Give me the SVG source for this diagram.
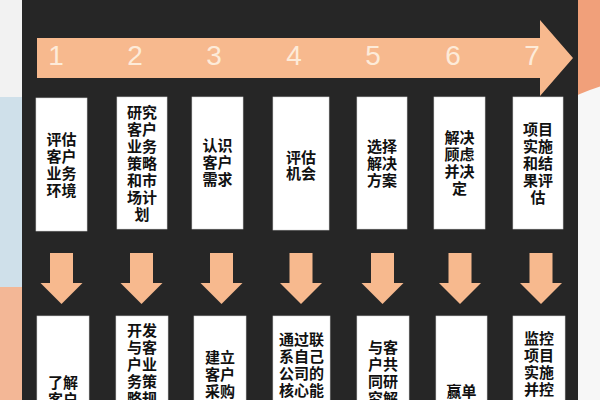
<svg xmlns="http://www.w3.org/2000/svg" width="600" height="400" viewBox="0 0 600 400">
  <defs>
    <style>
      .box { fill: #ffffff; stroke: #d8d8d8; stroke-width: 0.6; }
      .lbl { font-family: "Noto Sans CJK SC", "Noto Sans", sans-serif; font-size: 15px; font-weight: bold; fill: #111111; text-anchor: middle; }
      .num { font-family: "Liberation Sans", "DejaVu Sans", sans-serif; font-size: 28px; fill: #fdebd9; text-anchor: middle; }
      .arr { fill: #f7b98e; }
    </style>
    <polygon id="down" points="-11.5,253 11.5,253 11.5,283 21,283 0,304 -21,283 -11.5,283"/>
  </defs>

  <!-- background -->
  <rect x="0" y="0" width="600" height="400" fill="#f6f6f6"/>
  <rect x="0" y="0" width="24" height="97" fill="#f2f2f2"/>
  <rect x="0" y="97" width="24" height="190" fill="#cfe0ea"/>
  <rect x="0" y="287" width="24" height="113" fill="#f3b796"/>
  <rect x="576" y="0" width="24" height="120" fill="#f1a07a"/>
  <circle cx="680" cy="334" r="260" fill="#f7f7f7"/>
  <rect x="22" y="0" width="556" height="400" fill="#262626"/>

  <!-- timeline arrow -->
  <g id="timeline">
    <polygon class="arr" points="37,38 540,38 540,20 573,58 540,96 540,78 37,78"/>
    <text class="num" x="56" y="65">1</text>
    <text class="num" x="135" y="65">2</text>
    <text class="num" x="214" y="65">3</text>
    <text class="num" x="294" y="65">4</text>
    <text class="num" x="373" y="65">5</text>
    <text class="num" x="453" y="65">6</text>
    <text class="num" x="532" y="65">7</text>
  </g>

  <!-- top row -->
  <g id="step1">
    <rect class="box" x="36" y="98" width="51" height="133"/>
    <text class="lbl" x="61.5" y="145"><tspan x="61.5">评估</tspan><tspan x="61.5" dy="17">客户</tspan><tspan x="61.5" dy="17">业务</tspan><tspan x="61.5" dy="17">环境</tspan></text>
  </g>
  <g id="step2">
    <rect class="box" x="117" y="97" width="50" height="132"/>
    <text class="lbl" x="142" y="117.5"><tspan x="142">研究</tspan><tspan x="142" dy="17">客户</tspan><tspan x="142" dy="17">业务</tspan><tspan x="142" dy="17">策略</tspan><tspan x="142" dy="17">和市</tspan><tspan x="142" dy="17">场计</tspan><tspan x="142" dy="17">划</tspan></text>
  </g>
  <g id="step3">
    <rect class="box" x="192" y="97" width="51" height="132"/>
    <text class="lbl" x="217.5" y="150.5"><tspan x="217.5">认识</tspan><tspan x="217.5" dy="17">客户</tspan><tspan x="217.5" dy="17">需求</tspan></text>
  </g>
  <g id="step4">
    <rect class="box" x="273" y="97" width="56" height="133"/>
    <text class="lbl" x="301" y="162.5"><tspan x="301">评估</tspan><tspan x="301" dy="16">机会</tspan></text>
  </g>
  <g id="step5">
    <rect class="box" x="357" y="97" width="50" height="132"/>
    <text class="lbl" x="382" y="152"><tspan x="382">选择</tspan><tspan x="382" dy="17">解决</tspan><tspan x="382" dy="17">方案</tspan></text>
  </g>
  <g id="step6">
    <rect class="box" x="434" y="97" width="51" height="132"/>
    <text class="lbl" x="459.5" y="142.5"><tspan x="459.5">解决</tspan><tspan x="459.5" dy="17">顾虑</tspan><tspan x="459.5" dy="17">并决</tspan><tspan x="459.5" dy="17">定</tspan></text>
  </g>
  <g id="step7">
    <rect class="box" x="513" y="97" width="50" height="132"/>
    <text class="lbl" x="538" y="134.5"><tspan x="538">项目</tspan><tspan x="538" dy="17">实施</tspan><tspan x="538" dy="17">和结</tspan><tspan x="538" dy="17">果评</tspan><tspan x="538" dy="17">估</tspan></text>
  </g>

  <!-- connectors -->
  <g id="connectors" class="arr">
    <use href="#down" x="61.5"/>
    <use href="#down" x="141.5"/>
    <use href="#down" x="221.5"/>
    <use href="#down" x="301"/>
    <use href="#down" x="382.5"/>
    <use href="#down" x="460"/>
    <use href="#down" x="541"/>
  </g>

  <!-- bottom row -->
  <g id="action1">
    <rect class="box" x="37" y="316" width="52" height="100"/>
    <text class="lbl" x="63" y="387.5"><tspan x="63">了解</tspan><tspan x="63" dy="17">客户</tspan></text>
  </g>
  <g id="action2">
    <rect class="box" x="116" y="316" width="52" height="100"/>
    <text class="lbl" x="142" y="335.5"><tspan x="142">开发</tspan><tspan x="142" dy="17">与客</tspan><tspan x="142" dy="17">户业</tspan><tspan x="142" dy="17">务策</tspan><tspan x="142" dy="17">略规</tspan></text>
  </g>
  <g id="action3">
    <rect class="box" x="194" y="316" width="52" height="100"/>
    <text class="lbl" x="220" y="362.5"><tspan x="220">建立</tspan><tspan x="220" dy="17">客户</tspan><tspan x="220" dy="17">采购</tspan></text>
  </g>
  <g id="action4">
    <rect class="box" x="273" y="316" width="57" height="100"/>
    <text class="lbl" x="301.5" y="344.5"><tspan x="301.5">通过联</tspan><tspan x="301.5" dy="17">系自己</tspan><tspan x="301.5" dy="17">公司的</tspan><tspan x="301.5" dy="17">核心能</tspan></text>
  </g>
  <g id="action5">
    <rect class="box" x="357" y="316" width="52" height="100"/>
    <text class="lbl" x="383" y="352.5"><tspan x="383">与客</tspan><tspan x="383" dy="17">户共</tspan><tspan x="383" dy="17">同研</tspan><tspan x="383" dy="17">究解</tspan></text>
  </g>
  <g id="action6">
    <rect class="box" x="436" y="316" width="51" height="100"/>
    <text class="lbl" x="461.5" y="397">赢单</text>
  </g>
  <g id="action7">
    <rect class="box" x="513" y="316" width="52" height="100"/>
    <text class="lbl" x="539" y="343.5"><tspan x="539">监控</tspan><tspan x="539" dy="17">项目</tspan><tspan x="539" dy="17">实施</tspan><tspan x="539" dy="17.5">并控</tspan></text>
  </g>
</svg>
